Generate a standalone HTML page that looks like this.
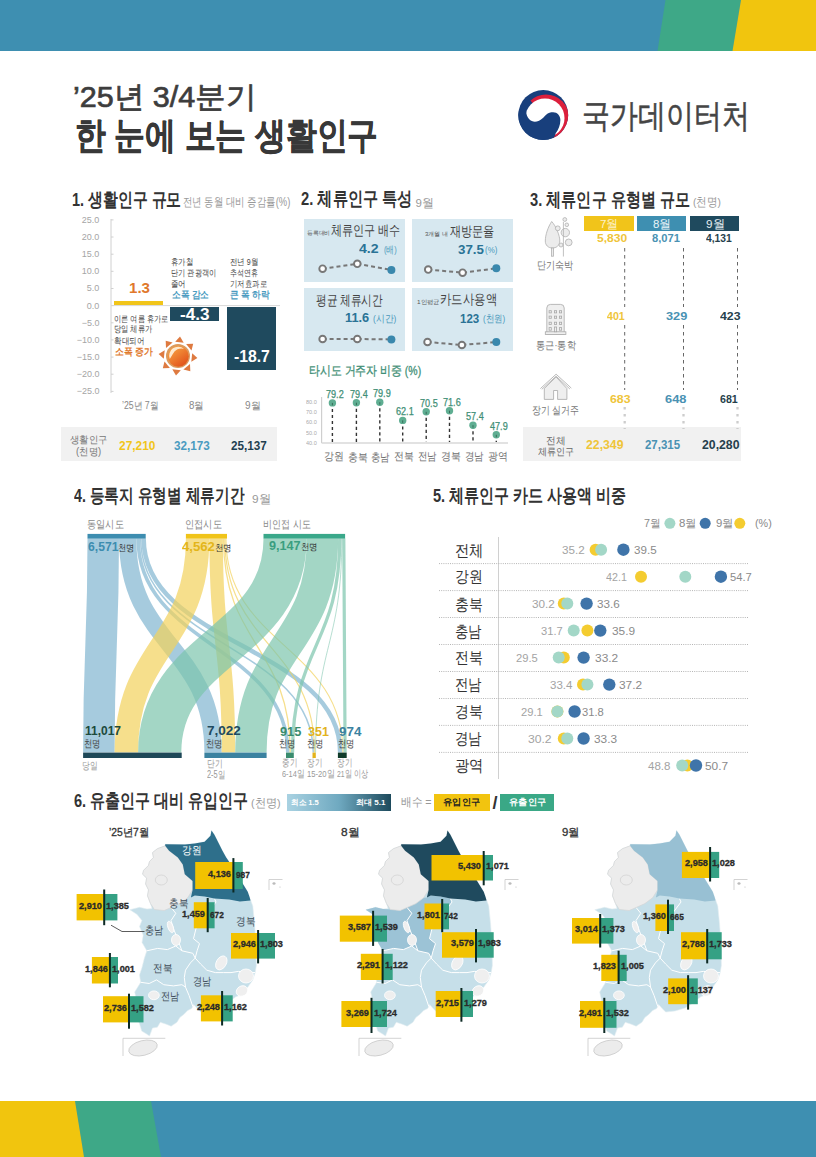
<!DOCTYPE html>
<html><head><meta charset="utf-8"><style>
html,body{margin:0;padding:0;background:#fff;}
body{width:816px;height:1157px;position:relative;overflow:hidden;font-family:"Liberation Sans", sans-serif;}
.t{position:absolute;white-space:nowrap;}
.b{position:absolute;}
.s{position:absolute;overflow:visible;}
</style></head><body>
<svg class="s" style="left:0;top:0" width="816" height="1157" viewBox="0 0 816 1157">
<rect x="0" y="0" width="816" height="51" fill="#3e8fb1"/>
<polygon points="665.5,0 741,0 732.5,51 657.5,51" fill="#3ea887"/>
<polygon points="741,0 816,0 816,51 732.5,51" fill="#f1c50e"/>
<rect x="0" y="1101" width="816" height="56" fill="#3e8fb1"/>
<polygon points="75,1101 151,1101 161,1157 84,1157" fill="#3ea887"/>
<polygon points="0,1101 75,1101 84,1157 0,1157" fill="#f1c50e"/>
</svg>
<div class="t" style="left:72.57px;top:81.70px;font-size:30px;line-height:30px;color:#3d3d3d;transform:scaleX(1.0172);transform-origin:0 0;-webkit-text-stroke:0.7px #3d3d3d;">&#8217;25년 3/4분기</div>
<div class="t" style="left:75.03px;top:116.50px;font-size:37px;line-height:37px;color:#383838;font-weight:bold;transform:scaleX(0.8333);transform-origin:0 0;-webkit-text-stroke:0.5px #383838;">한 눈에 보는 생활인구</div>
<svg class="s" style="left:516.5px;top:89.2px" width="52.5" height="52" viewBox="0 0 100 100">
<defs><clipPath id="lc"><circle cx="50" cy="50" r="48"/></clipPath><clipPath id="lw"><polygon points="50,50 -31,-41 50,-60 160,-60 160,160 89,144"/></clipPath></defs>
<circle cx="50" cy="50" r="48" fill="#183f7c"/>
<g clip-path="url(#lc)"><circle cx="55.3" cy="54.8" r="44.4" fill="#dc1f3c" clip-path="url(#lw)"/></g>
<circle cx="53.2" cy="55.8" r="37.7" fill="#fff" clip-path="url(#lc)"/>
<path clip-path="url(#lc)" d="M 17.2,43 C 17.5,56 26,63 34,63 C 44,63 50,55 55,50 C 60,45 64,44.5 69,44.5 C 77,44.5 83,51 83,59.5 C 83,70 79,78 74,85 L 69.5,97 L 50,100 L 0,100 L 0,43 Z" fill="#183f7c"/>
</svg>
<div class="t" style="left:581.81px;top:98.50px;font-size:33px;line-height:33px;color:#454545;transform:scaleX(0.8455);transform-origin:0 0;-webkit-text-stroke:0.5px #454545;">국가데이터처</div>
<div class="t" style="left:72.42px;top:190.80px;font-size:18.5px;line-height:18.5px;color:#333;font-weight:bold;transform:scaleX(0.7826);transform-origin:0 0;">1. 생활인구 규모</div>
<div class="t" style="left:183.21px;top:196.20px;font-size:12px;line-height:12px;color:#999;transform:scaleX(0.7852);transform-origin:0 0;">전년 동월 대비 증감률(%)</div>
<div class="t" style="left:81.70px;top:215.85px;font-size:9px;line-height:9px;color:#a5a5a5;">25.0</div>
<div class="t" style="left:81.70px;top:233.00px;font-size:9px;line-height:9px;color:#a5a5a5;">20.0</div>
<div class="t" style="left:81.70px;top:250.15px;font-size:9px;line-height:9px;color:#a5a5a5;">15.0</div>
<div class="t" style="left:81.70px;top:267.30px;font-size:9px;line-height:9px;color:#a5a5a5;">10.0</div>
<div class="t" style="left:86.70px;top:284.45px;font-size:9px;line-height:9px;color:#a5a5a5;">5.0</div>
<div class="t" style="left:86.70px;top:301.60px;font-size:9px;line-height:9px;color:#a5a5a5;">0.0</div>
<div class="t" style="left:81.70px;top:318.75px;font-size:9px;line-height:9px;color:#a5a5a5;">&minus;5.0</div>
<div class="t" style="left:76.70px;top:335.90px;font-size:9px;line-height:9px;color:#a5a5a5;">&minus;10.0</div>
<div class="t" style="left:76.70px;top:353.05px;font-size:9px;line-height:9px;color:#a5a5a5;">&minus;15.0</div>
<div class="t" style="left:76.70px;top:370.20px;font-size:9px;line-height:9px;color:#a5a5a5;">&minus;20.0</div>
<div class="t" style="left:76.70px;top:387.35px;font-size:9px;line-height:9px;color:#a5a5a5;">&minus;25.0</div>
<svg class="s" style="left:0;top:0" width="816" height="1157"><line x1="111" y1="219" x2="111" y2="393" stroke="#d0d0d0" stroke-width="1"/><line x1="111" y1="219.9" x2="113.5" y2="219.9" stroke="#d0d0d0" stroke-width="1"/><line x1="111" y1="237.0" x2="113.5" y2="237.0" stroke="#d0d0d0" stroke-width="1"/><line x1="111" y1="254.2" x2="113.5" y2="254.2" stroke="#d0d0d0" stroke-width="1"/><line x1="111" y1="271.3" x2="113.5" y2="271.3" stroke="#d0d0d0" stroke-width="1"/><line x1="111" y1="288.5" x2="113.5" y2="288.5" stroke="#d0d0d0" stroke-width="1"/><line x1="111" y1="305.6" x2="113.5" y2="305.6" stroke="#d0d0d0" stroke-width="1"/><line x1="111" y1="322.8" x2="113.5" y2="322.8" stroke="#d0d0d0" stroke-width="1"/><line x1="111" y1="339.9" x2="113.5" y2="339.9" stroke="#d0d0d0" stroke-width="1"/><line x1="111" y1="357.1" x2="113.5" y2="357.1" stroke="#d0d0d0" stroke-width="1"/><line x1="111" y1="374.2" x2="113.5" y2="374.2" stroke="#d0d0d0" stroke-width="1"/><line x1="111" y1="391.4" x2="113.5" y2="391.4" stroke="#d0d0d0" stroke-width="1"/><line x1="111" y1="305.6" x2="280" y2="305.6" stroke="#d8d8d8" stroke-width="1"/></svg>
<div class="b" style="left:113.8px;top:301.2px;width:49.7px;height:4.3px;background:#f1c51a;"></div>
<div class="b" style="left:170.4px;top:307.0px;width:48.6px;height:14.0px;background:#1f4a5e;"></div>
<div class="b" style="left:227.3px;top:307.0px;width:48.9px;height:62.8px;background:#1f4a5e;"></div>
<div class="t" style="left:129.40px;top:281.10px;font-size:14.5px;line-height:14.5px;color:#e0782c;font-weight:bold;transform:scaleX(1.0400);transform-origin:0 0;">1.3</div>
<div class="t" style="left:180.00px;top:307.00px;font-size:16px;line-height:16px;color:#fff;font-weight:bold;transform:scaleX(1.0714);transform-origin:0 0;">-4.3</div>
<div class="t" style="left:234.00px;top:349.40px;font-size:16px;line-height:16px;color:#fff;font-weight:bold;transform:scaleX(0.9833);transform-origin:0 0;">-18.7</div>
<div class="t" style="left:170.78px;top:258.10px;font-size:8.5px;line-height:8.5px;color:#444;transform:scaleX(0.8240);transform-origin:0 0;">휴가철</div>
<div class="t" style="left:170.80px;top:268.50px;font-size:8.5px;line-height:8.5px;color:#444;transform:scaleX(0.8037);transform-origin:0 0;">단기 관광객이</div>
<div class="t" style="left:170.78px;top:279.50px;font-size:8.5px;line-height:8.5px;color:#444;transform:scaleX(0.8250);transform-origin:0 0;">줄어</div>
<div class="t" style="left:171.60px;top:289.70px;font-size:9.5px;line-height:9.5px;color:#4a9bc0;font-weight:bold;transform:scaleX(0.8698);transform-origin:0 0;">소폭 감소</div>
<div class="t" style="left:229.57px;top:258.10px;font-size:8.5px;line-height:8.5px;color:#444;transform:scaleX(0.8281);transform-origin:0 0;">전년 9월</div>
<div class="t" style="left:229.62px;top:269.00px;font-size:8.5px;line-height:8.5px;color:#444;transform:scaleX(0.7771);transform-origin:0 0;">추석연휴</div>
<div class="t" style="left:229.58px;top:279.50px;font-size:8.5px;line-height:8.5px;color:#444;transform:scaleX(0.8209);transform-origin:0 0;">기저효과로</div>
<div class="t" style="left:230.40px;top:289.70px;font-size:9.5px;line-height:9.5px;color:#4a9bc0;font-weight:bold;transform:scaleX(0.8667);transform-origin:0 0;">큰 폭 하락</div>
<div class="t" style="left:113.80px;top:314.50px;font-size:8.5px;line-height:8.5px;color:#444;transform:scaleX(0.8015);transform-origin:0 0;">이른 여름 휴가로</div>
<div class="t" style="left:113.79px;top:325.00px;font-size:8.5px;line-height:8.5px;color:#444;transform:scaleX(0.8087);transform-origin:0 0;">당일 체류가</div>
<div class="t" style="left:113.76px;top:336.70px;font-size:8.5px;line-height:8.5px;color:#444;transform:scaleX(0.8353);transform-origin:0 0;">확대되어</div>
<div class="t" style="left:114.60px;top:346.50px;font-size:9.5px;line-height:9.5px;color:#e0782c;font-weight:bold;transform:scaleX(0.8884);transform-origin:0 0;">소폭 증가</div>
<svg class="s" style="left:153.2px;top:330.5px" width="50" height="50" viewBox="-25 -25 50 50"><defs><linearGradient id="sg" x1="0.2" y1="0.1" x2="0.8" y2="0.9"><stop offset="0" stop-color="#f7a040"/><stop offset="1" stop-color="#e2541c"/></linearGradient></defs><polygon points="19.4,2.0 14.2,-2.8 13.3,5.7" fill="#de7a40"/><polygon points="12.3,15.2 12.0,8.1 5.4,13.5" fill="#de7a40"/><polygon points="-2.0,19.4 2.8,14.2 -5.7,13.3" fill="#de7a40"/><polygon points="-15.2,12.3 -8.1,12.0 -13.5,5.4" fill="#de7a40"/><polygon points="-19.4,-2.0 -14.2,2.8 -13.3,-5.7" fill="#de7a40"/><polygon points="-12.3,-15.2 -12.0,-8.1 -5.4,-13.5" fill="#de7a40"/><polygon points="2.0,-19.4 -2.8,-14.2 5.7,-13.3" fill="#de7a40"/><polygon points="15.2,-12.3 8.1,-12.0 13.5,-5.4" fill="#de7a40"/><circle cx="0" cy="0" r="12" fill="#dc9a5c"/><circle cx="0.3" cy="0.3" r="10.4" fill="url(#sg)"/><path d="M -8.2,3 A 9 9 0 0 1 6,-7.2 A 9.5 9.5 0 0 0 -5.2,-2 Z" fill="#fff3e0" opacity="0.9"/></svg>
<div class="t" style="left:122.00px;top:401.00px;font-size:10px;line-height:10px;color:#888;transform:scaleX(0.8732);transform-origin:0 0;">&#8217;25년 7월</div>
<div class="t" style="left:188.50px;top:401.00px;font-size:10px;line-height:10px;color:#888;transform:scaleX(0.9667);transform-origin:0 0;">8월</div>
<div class="t" style="left:245.00px;top:401.00px;font-size:10px;line-height:10px;color:#888;">9월</div>
<div class="b" style="left:60.7px;top:427.0px;width:216.0px;height:34.0px;background:#f1f1f1;"></div>
<div class="t" style="left:70.00px;top:434.50px;font-size:10px;line-height:10px;color:#777;transform:scaleX(0.9410);transform-origin:0 0;">생활인구</div>
<div class="t" style="left:76.00px;top:447.00px;font-size:10px;line-height:10px;color:#777;transform:scaleX(0.9423);transform-origin:0 0;">(천명)</div>
<div class="t" style="left:119.00px;top:438.70px;font-size:13px;line-height:13px;color:#f1c51a;font-weight:bold;transform:scaleX(0.9175);transform-origin:0 0;">27,210</div>
<div class="t" style="left:174.00px;top:438.70px;font-size:13px;line-height:13px;color:#4a9bc0;font-weight:bold;transform:scaleX(0.9000);transform-origin:0 0;">32,173</div>
<div class="t" style="left:231.00px;top:438.70px;font-size:13px;line-height:13px;color:#1f3f50;font-weight:bold;transform:scaleX(0.9000);transform-origin:0 0;">25,137</div>
<div class="t" style="left:300.90px;top:190.30px;font-size:18.5px;line-height:18.5px;color:#333;font-weight:bold;transform:scaleX(0.7993);transform-origin:0 0;">2. 체류인구 특성</div>
<div class="t" style="left:415.60px;top:197.50px;font-size:11.5px;line-height:11.5px;color:#999;">9월</div>
<div class="b" style="left:304.0px;top:219.0px;width:101.0px;height:62.7px;background:#d7e8f0;"></div>
<div class="b" style="left:412.0px;top:219.0px;width:101.0px;height:62.7px;background:#d7e8f0;"></div>
<div class="b" style="left:304.0px;top:288.1px;width:101.0px;height:63.0px;background:#d7e8f0;"></div>
<div class="b" style="left:412.0px;top:288.1px;width:101.0px;height:63.0px;background:#d7e8f0;"></div>
<div class="t" style="left:306.70px;top:229.50px;font-size:6px;line-height:6px;color:#555;transform:scaleX(0.9708);transform-origin:0 0;">등록대비</div>
<div class="t" style="left:331.30px;top:224.20px;font-size:13.5px;line-height:13.5px;color:#444;transform:scaleX(0.7931);transform-origin:0 0;">체류인구 배수</div>
<div class="t" style="left:359.30px;top:242.20px;font-size:13px;line-height:13px;color:#2a7396;font-weight:bold;transform:scaleX(1.0889);transform-origin:0 0;">4.2</div>
<div class="t" style="left:383.60px;top:244.50px;font-size:9.5px;line-height:9.5px;color:#4a98bb;transform:scaleX(0.7750);transform-origin:0 0;">(배)</div>
<div class="t" style="left:425.30px;top:230.50px;font-size:6px;line-height:6px;color:#555;transform:scaleX(1.0043);transform-origin:0 0;">3개월 내</div>
<div class="t" style="left:449.80px;top:224.80px;font-size:13.5px;line-height:13.5px;color:#444;transform:scaleX(0.7964);transform-origin:0 0;">재방문율</div>
<div class="t" style="left:457.90px;top:243.00px;font-size:13px;line-height:13px;color:#2a7396;font-weight:bold;transform:scaleX(1.0240);transform-origin:0 0;">37.5</div>
<div class="t" style="left:485.10px;top:244.80px;font-size:9.5px;line-height:9.5px;color:#4a98bb;transform:scaleX(0.8333);transform-origin:0 0;">(%)</div>
<div class="t" style="left:315.50px;top:294.20px;font-size:13.5px;line-height:13.5px;color:#444;transform:scaleX(0.7614);transform-origin:0 0;">평균 체류시간</div>
<div class="t" style="left:344.50px;top:311.30px;font-size:13px;line-height:13px;color:#2a7396;font-weight:bold;transform:scaleX(0.9833);transform-origin:0 0;">11.6</div>
<div class="t" style="left:372.80px;top:313.70px;font-size:9.5px;line-height:9.5px;color:#4a98bb;transform:scaleX(0.8808);transform-origin:0 0;">(시간)</div>
<div class="t" style="left:417.20px;top:299.00px;font-size:6px;line-height:6px;color:#555;transform:scaleX(1.0714);transform-origin:0 0;">1인평균</div>
<div class="t" style="left:439.59px;top:293.40px;font-size:13.5px;line-height:13.5px;color:#444;transform:scaleX(0.8149);transform-origin:0 0;">카드사용액</div>
<div class="t" style="left:459.90px;top:311.50px;font-size:13px;line-height:13px;color:#2a7396;font-weight:bold;transform:scaleX(0.8864);transform-origin:0 0;">123</div>
<div class="t" style="left:482.80px;top:313.70px;font-size:9.5px;line-height:9.5px;color:#4a98bb;transform:scaleX(0.8462);transform-origin:0 0;">(천원)</div>
<div class="t" style="left:325.80px;top:389.92px;font-size:10px;line-height:10px;color:#3f8f76;transform:scaleX(0.9100);transform-origin:0 0;-webkit-text-stroke:0.25px #3f8f76;">79.2</div>
<div class="t" style="left:324.00px;top:451.00px;font-size:11px;line-height:11px;color:#707070;transform:scaleX(0.9000);transform-origin:0 0;">강원</div>
<div class="t" style="left:349.80px;top:389.71px;font-size:10px;line-height:10px;color:#3f8f76;transform:scaleX(0.9100);transform-origin:0 0;-webkit-text-stroke:0.25px #3f8f76;">79.4</div>
<div class="t" style="left:348.00px;top:451.50px;font-size:11px;line-height:11px;color:#707070;transform:scaleX(0.9000);transform-origin:0 0;">충북</div>
<div class="t" style="left:373.20px;top:389.20px;font-size:10px;line-height:10px;color:#3f8f76;transform:scaleX(0.9100);transform-origin:0 0;-webkit-text-stroke:0.25px #3f8f76;">79.9</div>
<div class="t" style="left:371.44px;top:451.50px;font-size:11px;line-height:11px;color:#707070;transform:scaleX(0.8571);transform-origin:0 0;">충남</div>
<div class="t" style="left:396.10px;top:407.36px;font-size:10px;line-height:10px;color:#3f8f76;transform:scaleX(0.9100);transform-origin:0 0;-webkit-text-stroke:0.25px #3f8f76;">62.1</div>
<div class="t" style="left:394.30px;top:451.00px;font-size:11px;line-height:11px;color:#707070;transform:scaleX(0.9000);transform-origin:0 0;">전북</div>
<div class="t" style="left:419.60px;top:398.79px;font-size:10px;line-height:10px;color:#3f8f76;transform:scaleX(0.9100);transform-origin:0 0;-webkit-text-stroke:0.25px #3f8f76;">70.5</div>
<div class="t" style="left:417.84px;top:451.00px;font-size:11px;line-height:11px;color:#707070;transform:scaleX(0.8571);transform-origin:0 0;">전남</div>
<div class="t" style="left:442.90px;top:397.67px;font-size:10px;line-height:10px;color:#3f8f76;transform:scaleX(0.9100);transform-origin:0 0;-webkit-text-stroke:0.25px #3f8f76;">71.6</div>
<div class="t" style="left:441.10px;top:451.00px;font-size:11px;line-height:11px;color:#707070;transform:scaleX(0.9000);transform-origin:0 0;">경북</div>
<div class="t" style="left:466.40px;top:412.15px;font-size:10px;line-height:10px;color:#3f8f76;transform:scaleX(0.9100);transform-origin:0 0;-webkit-text-stroke:0.25px #3f8f76;">57.4</div>
<div class="t" style="left:464.64px;top:451.00px;font-size:11px;line-height:11px;color:#707070;transform:scaleX(0.8571);transform-origin:0 0;">경남</div>
<div class="t" style="left:489.70px;top:421.84px;font-size:10px;line-height:10px;color:#3f8f76;transform:scaleX(0.9100);transform-origin:0 0;-webkit-text-stroke:0.25px #3f8f76;">47.9</div>
<div class="t" style="left:487.90px;top:451.00px;font-size:11px;line-height:11px;color:#707070;transform:scaleX(0.9000);transform-origin:0 0;">광역</div>
<svg class="s" style="left:0;top:0" width="816" height="1157"><polyline points="322.6,268.7 357.3,263.8 391.4,270" fill="none" stroke="#777" stroke-width="2" stroke-dasharray="4 3"/><circle cx="322.6" cy="268.7" r="3.3" fill="#fff" stroke="#777" stroke-width="1.9"/><circle cx="357.3" cy="263.8" r="3.3" fill="#fff" stroke="#777" stroke-width="1.9"/><circle cx="391.4" cy="270" r="4" fill="#3a88ad"/><polyline points="428.2,269.6 462.6,272.7 496.3,268.3" fill="none" stroke="#777" stroke-width="2" stroke-dasharray="4 3"/><circle cx="428.2" cy="269.6" r="3.3" fill="#fff" stroke="#777" stroke-width="1.9"/><circle cx="462.6" cy="272.7" r="3.3" fill="#fff" stroke="#777" stroke-width="1.9"/><circle cx="496.3" cy="268.3" r="4" fill="#3a88ad"/><polyline points="322.6,339 357.3,339 391.4,339.4" fill="none" stroke="#777" stroke-width="2" stroke-dasharray="4 3"/><circle cx="322.6" cy="339" r="3.3" fill="#fff" stroke="#777" stroke-width="1.9"/><circle cx="357.3" cy="339" r="3.3" fill="#fff" stroke="#777" stroke-width="1.9"/><circle cx="391.4" cy="339.4" r="4" fill="#3a88ad"/><polyline points="427.5,342 461.9,345 496.3,342" fill="none" stroke="#777" stroke-width="2" stroke-dasharray="4 3"/><circle cx="427.5" cy="342" r="3.3" fill="#fff" stroke="#777" stroke-width="1.9"/><circle cx="461.9" cy="345" r="3.3" fill="#fff" stroke="#777" stroke-width="1.9"/><circle cx="496.3" cy="342" r="4" fill="#3a88ad"/><line x1="321.6" y1="397" x2="321.6" y2="443" stroke="#cfcfcf" stroke-width="1.2"/><line x1="321.6" y1="443" x2="508" y2="443" stroke="#d9d9d9" stroke-width="1.5"/><line x1="332.4" y1="402.9" x2="332.4" y2="442" stroke="#333" stroke-width="1.4" stroke-dasharray="3.2 2.8"/><circle cx="332.4" cy="402.9" r="3.7" fill="#5fae92"/><line x1="332.4" y1="402.9" x2="332.4" y2="405.4" stroke="#2d5a4a" stroke-width="0.8"/><line x1="356.4" y1="402.7" x2="356.4" y2="442" stroke="#333" stroke-width="1.4" stroke-dasharray="3.2 2.8"/><circle cx="356.4" cy="402.7" r="3.7" fill="#5fae92"/><line x1="356.4" y1="402.7" x2="356.4" y2="405.2" stroke="#2d5a4a" stroke-width="0.8"/><line x1="379.8" y1="402.2" x2="379.8" y2="442" stroke="#333" stroke-width="1.4" stroke-dasharray="3.2 2.8"/><circle cx="379.8" cy="402.2" r="3.7" fill="#5fae92"/><line x1="379.8" y1="402.2" x2="379.8" y2="404.7" stroke="#2d5a4a" stroke-width="0.8"/><line x1="402.7" y1="420.4" x2="402.7" y2="442" stroke="#333" stroke-width="1.4" stroke-dasharray="3.2 2.8"/><circle cx="402.7" cy="420.4" r="3.7" fill="#5fae92"/><line x1="402.7" y1="420.4" x2="402.7" y2="422.9" stroke="#2d5a4a" stroke-width="0.8"/><line x1="426.2" y1="411.8" x2="426.2" y2="442" stroke="#333" stroke-width="1.4" stroke-dasharray="3.2 2.8"/><circle cx="426.2" cy="411.8" r="3.7" fill="#5fae92"/><line x1="426.2" y1="411.8" x2="426.2" y2="414.3" stroke="#2d5a4a" stroke-width="0.8"/><line x1="449.5" y1="410.7" x2="449.5" y2="442" stroke="#333" stroke-width="1.4" stroke-dasharray="3.2 2.8"/><circle cx="449.5" cy="410.7" r="3.7" fill="#5fae92"/><line x1="449.5" y1="410.7" x2="449.5" y2="413.2" stroke="#2d5a4a" stroke-width="0.8"/><line x1="473" y1="425.2" x2="473" y2="442" stroke="#333" stroke-width="1.4" stroke-dasharray="3.2 2.8"/><circle cx="473" cy="425.2" r="3.7" fill="#5fae92"/><line x1="473" y1="425.2" x2="473" y2="427.7" stroke="#2d5a4a" stroke-width="0.8"/><line x1="496.3" y1="434.8" x2="496.3" y2="442" stroke="#333" stroke-width="1.4" stroke-dasharray="3.2 2.8"/><circle cx="496.3" cy="434.8" r="3.7" fill="#5fae92"/><line x1="496.3" y1="434.8" x2="496.3" y2="437.3" stroke="#2d5a4a" stroke-width="0.8"/></svg>
<div class="t" style="left:306.30px;top:399.00px;font-size:6px;line-height:6px;color:#aaa;transform:scaleX(0.9167);transform-origin:0 0;">80.0</div>
<div class="t" style="left:306.30px;top:409.20px;font-size:6px;line-height:6px;color:#aaa;transform:scaleX(0.9167);transform-origin:0 0;">70.0</div>
<div class="t" style="left:306.30px;top:419.40px;font-size:6px;line-height:6px;color:#aaa;transform:scaleX(0.9167);transform-origin:0 0;">60.0</div>
<div class="t" style="left:306.30px;top:429.60px;font-size:6px;line-height:6px;color:#aaa;transform:scaleX(0.9167);transform-origin:0 0;">50.0</div>
<div class="t" style="left:306.30px;top:439.80px;font-size:6px;line-height:6px;color:#aaa;transform:scaleX(0.9167);transform-origin:0 0;">40.0</div>
<div class="t" style="left:309.26px;top:364.50px;font-size:12.5px;line-height:12.5px;color:#3f8f76;transform:scaleX(0.8376);transform-origin:0 0;-webkit-text-stroke:0.3px #3f8f76;">타시도 거주자 비중 (%)</div>
<div class="t" style="left:530.30px;top:190.80px;font-size:18.5px;line-height:18.5px;color:#333;font-weight:bold;transform:scaleX(0.7930);transform-origin:0 0;">3. 체류인구 유형별 규모</div>
<div class="t" style="left:693.20px;top:197.00px;font-size:11.5px;line-height:11.5px;color:#999;transform:scaleX(0.8839);transform-origin:0 0;">(천명)</div>
<div class="b" style="left:584.0px;top:216.2px;width:50.1px;height:14.7px;background:#f1c41a;"></div>
<div class="b" style="left:637.1px;top:216.2px;width:48.8px;height:14.7px;background:#3e8fb1;"></div>
<div class="b" style="left:690.0px;top:216.2px;width:48.8px;height:14.7px;background:#1f4a5e;"></div>
<div class="t" style="left:600.00px;top:218.50px;font-size:11.5px;line-height:11.5px;color:#fdf2c8;">7월</div>
<div class="t" style="left:652.80px;top:218.50px;font-size:11.5px;line-height:11.5px;color:#eaf4f8;transform:scaleX(0.9941);transform-origin:0 0;">8월</div>
<div class="t" style="left:705.70px;top:218.50px;font-size:11.5px;line-height:11.5px;color:#e6eef2;transform:scaleX(1.0176);transform-origin:0 0;">9월</div>
<div class="b" style="left:523.0px;top:427.4px;width:218.0px;height:33.8px;background:#f1f1f1;"></div>
<svg class="s" style="left:0;top:0" width="816" height="1157"><line x1="624.7" y1="248" x2="624.7" y2="307" stroke="#666" stroke-width="1" stroke-dasharray="3.5 3.5"/><line x1="624.7" y1="325" x2="624.7" y2="390" stroke="#666" stroke-width="1" stroke-dasharray="3.5 3.5"/><line x1="624.7" y1="407" x2="624.7" y2="429" stroke="#cdcdcd" stroke-width="2.3" stroke-dasharray="2.5 4.5"/><line x1="683.5" y1="248" x2="683.5" y2="307" stroke="#666" stroke-width="1" stroke-dasharray="3.5 3.5"/><line x1="683.5" y1="325" x2="683.5" y2="390" stroke="#666" stroke-width="1" stroke-dasharray="3.5 3.5"/><line x1="683.5" y1="407" x2="683.5" y2="429" stroke="#cdcdcd" stroke-width="2.3" stroke-dasharray="2.5 4.5"/><line x1="737.5" y1="248" x2="737.5" y2="307" stroke="#666" stroke-width="1" stroke-dasharray="3.5 3.5"/><line x1="737.5" y1="325" x2="737.5" y2="390" stroke="#666" stroke-width="1" stroke-dasharray="3.5 3.5"/><line x1="737.5" y1="407" x2="737.5" y2="429" stroke="#cdcdcd" stroke-width="2.3" stroke-dasharray="2.5 4.5"/><g fill="#ececec" stroke="#b0b0b0" stroke-width="0.8"><path d="M 551.7,221.5 C 556,226 560,236 559.8,241 C 559.5,246 556,248 552.5,248 C 548,248 545.3,245 545.3,241 C 545.3,235 548,227 551.7,221.5 Z"/><rect x="551.6" y="248" width="2" height="8.2"/><circle cx="564.8" cy="219.5" r="1.9"/><circle cx="566.8" cy="224.8" r="1.8"/><circle cx="557.8" cy="228.3" r="2.4"/><circle cx="565.3" cy="232.6" r="4.2"/><circle cx="568.7" cy="242.4" r="3.4"/><circle cx="561" cy="245" r="2"/><path d="M 563.4,222 L 563.4,256.5" fill="none"/></g><g fill="#efefef" stroke="#a8a8a8" stroke-width="0.8"><path d="M 546.8,334 L 546.8,308 Q 546.8,304.4 550.5,304.4 L 560.5,304.4 Q 564.2,304.4 564.2,308 L 564.2,334 Z"/><rect x="545.3" y="331.8" width="20.6" height="2.6"/><rect x="549.1" y="310.7" width="2.2" height="2.2"/><rect x="549.1" y="316.09999999999997" width="2.2" height="2.2"/><rect x="549.1" y="322.2" width="2.2" height="2.2"/><rect x="549.1" y="327.59999999999997" width="2.2" height="2.6"/><rect x="554.4" y="310.7" width="2.2" height="2.2"/><rect x="554.4" y="316.09999999999997" width="2.2" height="2.2"/><rect x="554.4" y="322.2" width="2.2" height="2.2"/><rect x="554.4" y="327" width="2.2" height="4.8"/><rect x="559.4" y="310.7" width="2.2" height="2.2"/><rect x="559.4" y="316.09999999999997" width="2.2" height="2.2"/><rect x="559.4" y="322.2" width="2.2" height="2.2"/><rect x="559.4" y="327.59999999999997" width="2.2" height="2.6"/></g><g fill="#efefef" stroke="#a8a8a8" stroke-width="0.8"><path d="M 544.3,388.5 L 556.1,377 L 566.9,388.5 L 566.9,399.4 L 557.6,399.4 L 557.6,390.5 L 553.6,390.5 L 553.6,399.4 L 544.3,399.4 Z"/><path d="M 540.4,388.6 L 556.1,374.2 L 571.3,388.1" fill="none"/><path d="M 541.8,389.3 L 556.1,376.2 L 569.9,389" fill="none"/></g></svg>
<div class="t" style="left:537.27px;top:260.10px;font-size:10.5px;line-height:10.5px;color:#777;transform:scaleX(0.8302);transform-origin:0 0;">단기숙박</div>
<div class="t" style="left:535.66px;top:340.30px;font-size:10.5px;line-height:10.5px;color:#777;transform:scaleX(0.8370);transform-origin:0 0;">통근·통학</div>
<div class="t" style="left:531.59px;top:404.50px;font-size:10.5px;line-height:10.5px;color:#777;transform:scaleX(0.8123);transform-origin:0 0;">장기 실거주</div>
<div class="t" style="left:546.03px;top:435.60px;font-size:10px;line-height:10px;color:#666;transform:scaleX(0.9667);transform-origin:0 0;">전체</div>
<div class="t" style="left:538.20px;top:447.40px;font-size:10px;line-height:10px;color:#666;transform:scaleX(0.9051);transform-origin:0 0;">체류인구</div>
<div class="t" style="left:597.40px;top:232.80px;font-size:10.5px;line-height:10.5px;color:#efc53a;font-weight:bold;transform:scaleX(1.1500);transform-origin:0 0;">5,830</div>
<div class="t" style="left:652.00px;top:232.80px;font-size:10.5px;line-height:10.5px;color:#4a92b3;font-weight:bold;transform:scaleX(1.0630);transform-origin:0 0;">8,071</div>
<div class="t" style="left:705.70px;top:232.80px;font-size:10.5px;line-height:10.5px;color:#263f4c;font-weight:bold;transform:scaleX(0.9815);transform-origin:0 0;">4,131</div>
<div class="t" style="left:606.60px;top:310.50px;font-size:11px;line-height:11px;color:#efc53a;font-weight:bold;transform:scaleX(0.9684);transform-origin:0 0;">401</div>
<div class="t" style="left:665.90px;top:310.50px;font-size:11px;line-height:11px;color:#4a92b3;font-weight:bold;transform:scaleX(1.1611);transform-origin:0 0;">329</div>
<div class="t" style="left:720.00px;top:310.50px;font-size:11px;line-height:11px;color:#263f4c;font-weight:bold;transform:scaleX(1.1167);transform-origin:0 0;">423</div>
<div class="t" style="left:609.60px;top:393.90px;font-size:11px;line-height:11px;color:#efc53a;font-weight:bold;transform:scaleX(1.1167);transform-origin:0 0;">683</div>
<div class="t" style="left:665.20px;top:393.90px;font-size:11px;line-height:11px;color:#4a92b3;font-weight:bold;transform:scaleX(1.1667);transform-origin:0 0;">648</div>
<div class="t" style="left:719.60px;top:393.90px;font-size:11px;line-height:11px;color:#263f4c;font-weight:bold;transform:scaleX(0.9684);transform-origin:0 0;">681</div>
<div class="t" style="left:586.00px;top:439.20px;font-size:12px;line-height:12px;color:#efc53a;font-weight:bold;transform:scaleX(1.0216);transform-origin:0 0;">22,349</div>
<div class="t" style="left:645.30px;top:439.20px;font-size:12px;line-height:12px;color:#4a92b3;font-weight:bold;transform:scaleX(0.9541);transform-origin:0 0;">27,315</div>
<div class="t" style="left:701.90px;top:439.20px;font-size:12px;line-height:12px;color:#263f4c;font-weight:bold;transform:scaleX(1.0216);transform-origin:0 0;">20,280</div>
<div class="t" style="left:73.70px;top:486.50px;font-size:18.5px;line-height:18.5px;color:#333;font-weight:bold;transform:scaleX(0.7706);transform-origin:0 0;">4. 등록지 유형별 체류기간</div>
<div class="t" style="left:252.00px;top:493.50px;font-size:11.5px;line-height:11.5px;color:#999;transform:scaleX(1.0294);transform-origin:0 0;">9월</div>
<svg class="s" style="left:0;top:0" width="816" height="1157"><path d="M 103.25,538.6 C 103.25,645.6 98.85,645.6 98.85,752.6" fill="none" stroke="#80b5d0" stroke-width="31.5" stroke-opacity="0.7"/><path d="M 127.65,538.6 C 127.65,645.6 213.05,645.6 213.05,752.6" fill="none" stroke="#80b5d0" stroke-width="17.3" stroke-opacity="0.7"/><path d="M 138.10,538.6 C 138.10,645.6 287.80,645.6 287.80,752.6" fill="none" stroke="#80b5d0" stroke-width="3.6" stroke-opacity="0.7"/><path d="M 140.65,538.6 C 140.65,645.6 313.25,645.6 313.25,752.6" fill="none" stroke="#80b5d0" stroke-width="1.5" stroke-opacity="0.7"/><path d="M 143.65,538.6 C 143.65,645.6 340.15,645.6 340.15,752.6" fill="none" stroke="#80b5d0" stroke-width="4.5" stroke-opacity="0.7"/><path d="M 197.65,538.6 C 197.65,645.6 126.35,645.6 126.35,752.6" fill="none" stroke="#f2d15b" stroke-width="23.5" stroke-opacity="0.7"/><path d="M 216.15,538.6 C 216.15,645.6 228.45,645.6 228.45,752.6" fill="none" stroke="#f2d15b" stroke-width="13.5" stroke-opacity="0.7"/><path d="M 223.55,538.6 C 223.55,645.6 290.25,645.6 290.25,752.6" fill="none" stroke="#f2d15b" stroke-width="1.3" stroke-opacity="0.7"/><path d="M 224.80,538.6 C 224.80,645.6 314.60,645.6 314.60,752.6" fill="none" stroke="#f2d15b" stroke-width="1.2" stroke-opacity="0.7"/><path d="M 225.95,538.6 C 225.95,645.6 342.95,645.6 342.95,752.6" fill="none" stroke="#f2d15b" stroke-width="1.1" stroke-opacity="0.7"/><path d="M 285.10,538.6 C 285.10,645.6 159.70,645.6 159.70,752.6" fill="none" stroke="#7cc4ac" stroke-width="43.2" stroke-opacity="0.7"/><path d="M 322.40,538.6 C 322.40,645.6 250.90,645.6 250.90,752.6" fill="none" stroke="#7cc4ac" stroke-width="31.4" stroke-opacity="0.7"/><path d="M 339.75,538.6 C 339.75,645.6 292.55,645.6 292.55,752.6" fill="none" stroke="#7cc4ac" stroke-width="3.3" stroke-opacity="0.7"/><path d="M 341.80,538.6 C 341.80,645.6 315.60,645.6 315.60,752.6" fill="none" stroke="#7cc4ac" stroke-width="0.8" stroke-opacity="0.7"/><path d="M 343.80,538.6 C 343.80,645.6 345.10,645.6 345.10,752.6" fill="none" stroke="#7cc4ac" stroke-width="3.2" stroke-opacity="0.7"/><rect x="87.5" y="533.9" width="58.2" height="4.7" fill="#3d8db0"/><rect x="185.9" y="533.9" width="41.1" height="4.7" fill="#f0c419"/><rect x="263.5" y="533.9" width="81.6" height="4.7" fill="#3aa88a"/><rect x="83.1" y="752.6" width="98.6" height="5.4" fill="#1e4858"/><rect x="204.4" y="752.6" width="62.2" height="5.4" fill="#3b82a0"/><rect x="286" y="752.6" width="7.8" height="5.4" fill="#3a8c6e"/><rect x="312.5" y="752.6" width="3.3" height="5.4" fill="#e3b31c"/><rect x="337.9" y="752.6" width="8.8" height="5.4" fill="#0f3b2a"/></svg>
<div class="t" style="left:86.66px;top:518.70px;font-size:11px;line-height:11px;color:#888;transform:scaleX(0.8381);transform-origin:0 0;">동일시도</div>
<div class="t" style="left:184.66px;top:518.70px;font-size:11px;line-height:11px;color:#888;transform:scaleX(0.8405);transform-origin:0 0;">인접시도</div>
<div class="t" style="left:262.68px;top:519.00px;font-size:11px;line-height:11px;color:#888;transform:scaleX(0.8196);transform-origin:0 0;">비인접 시도</div>
<div class="t" style="left:87.80px;top:540.90px;font-size:12px;line-height:12px;color:#3d8db0;font-weight:bold;transform:scaleX(1.0133);transform-origin:0 0;">6,571</div>
<div class="t" style="left:118.28px;top:543.50px;font-size:8.5px;line-height:8.5px;color:#333;transform:scaleX(0.9187);transform-origin:0 0;">천명</div>
<div class="t" style="left:182.40px;top:540.90px;font-size:12px;line-height:12px;color:#e3b51a;font-weight:bold;transform:scaleX(1.0967);transform-origin:0 0;">4,562</div>
<div class="t" style="left:215.36px;top:543.50px;font-size:8.5px;line-height:8.5px;color:#333;transform:scaleX(0.9437);transform-origin:0 0;">천명</div>
<div class="t" style="left:269.40px;top:540.30px;font-size:12px;line-height:12px;color:#3a9e80;font-weight:bold;transform:scaleX(1.0533);transform-origin:0 0;">9,147</div>
<div class="t" style="left:300.86px;top:543.30px;font-size:8.5px;line-height:8.5px;color:#333;transform:scaleX(0.9375);transform-origin:0 0;">천명</div>
<div class="t" style="left:85.10px;top:724.70px;font-size:12.5px;line-height:12.5px;color:#1d4a3c;font-weight:bold;transform:scaleX(0.9595);transform-origin:0 0;">11,017</div>
<div class="t" style="left:206.60px;top:724.70px;font-size:12.5px;line-height:12.5px;color:#1f4a5e;font-weight:bold;transform:scaleX(1.0839);transform-origin:0 0;">7,022</div>
<div class="t" style="left:280.00px;top:725.70px;font-size:12.5px;line-height:12.5px;color:#3a8c6e;font-weight:bold;transform:scaleX(1.0238);transform-origin:0 0;">915</div>
<div class="t" style="left:308.00px;top:725.70px;font-size:12.5px;line-height:12.5px;color:#e3b31c;font-weight:bold;">351</div>
<div class="t" style="left:338.50px;top:725.70px;font-size:12.5px;line-height:12.5px;color:#3b82a0;font-weight:bold;transform:scaleX(1.0714);transform-origin:0 0;">974</div>
<div class="t" style="left:84.27px;top:739.00px;font-size:9.5px;line-height:9.5px;color:#444;transform:scaleX(0.8333);transform-origin:0 0;">천명</div>
<div class="t" style="left:205.77px;top:739.00px;font-size:9.5px;line-height:9.5px;color:#444;transform:scaleX(0.8333);transform-origin:0 0;">천명</div>
<div class="t" style="left:279.17px;top:739.00px;font-size:9.5px;line-height:9.5px;color:#444;transform:scaleX(0.8333);transform-origin:0 0;">천명</div>
<div class="t" style="left:307.17px;top:739.00px;font-size:9.5px;line-height:9.5px;color:#444;transform:scaleX(0.8333);transform-origin:0 0;">천명</div>
<div class="t" style="left:337.67px;top:739.00px;font-size:9.5px;line-height:9.5px;color:#444;transform:scaleX(0.8333);transform-origin:0 0;">천명</div>
<div class="t" style="left:82.32px;top:760.50px;font-size:10px;line-height:10px;color:#999;transform:scaleX(0.7778);transform-origin:0 0;">당일</div>
<div class="t" style="left:206.62px;top:758.70px;font-size:10px;line-height:10px;color:#999;transform:scaleX(0.7778);transform-origin:0 0;">단기</div>
<div class="t" style="left:207.00px;top:769.70px;font-size:10px;line-height:10px;color:#999;transform:scaleX(0.7391);transform-origin:0 0;">2-5일</div>
<div class="t" style="left:281.95px;top:758.20px;font-size:9.5px;line-height:9.5px;color:#999;transform:scaleX(0.7500);transform-origin:0 0;">중기</div>
<div class="t" style="left:307.25px;top:758.20px;font-size:9.5px;line-height:9.5px;color:#999;transform:scaleX(0.7500);transform-origin:0 0;">장기</div>
<div class="t" style="left:337.15px;top:758.20px;font-size:9.5px;line-height:9.5px;color:#999;transform:scaleX(0.7500);transform-origin:0 0;">장기</div>
<div class="t" style="left:282.00px;top:769.20px;font-size:9.5px;line-height:9.5px;color:#999;transform:scaleX(0.7750);transform-origin:0 0;">6-14일</div>
<div class="t" style="left:307.00px;top:769.20px;font-size:9.5px;line-height:9.5px;color:#999;transform:scaleX(0.8030);transform-origin:0 0;">15-20일</div>
<div class="t" style="left:337.00px;top:769.20px;font-size:9.5px;line-height:9.5px;color:#999;transform:scaleX(0.7140);transform-origin:0 0;">21일 이상</div>
<div class="t" style="left:433.00px;top:487.00px;font-size:18.5px;line-height:18.5px;color:#333;font-weight:bold;transform:scaleX(0.7889);transform-origin:0 0;">5. 체류인구 카드 사용액 비중</div>
<div class="t" style="left:644.20px;top:517.80px;font-size:11px;line-height:11px;color:#888;transform:scaleX(0.9750);transform-origin:0 0;">7월</div>
<div class="t" style="left:679.10px;top:517.80px;font-size:11px;line-height:11px;color:#888;transform:scaleX(1.0375);transform-origin:0 0;">8월</div>
<div class="t" style="left:715.90px;top:517.80px;font-size:11px;line-height:11px;color:#888;transform:scaleX(1.0312);transform-origin:0 0;">9월</div>
<div class="t" style="left:755.40px;top:518.20px;font-size:11px;line-height:11px;color:#888;transform:scaleX(0.9765);transform-origin:0 0;">(%)</div>
<div class="t" style="left:455.40px;top:542.90px;font-size:15.5px;line-height:15.5px;color:#333;transform:scaleX(0.8966);transform-origin:0 0;">전체</div>
<div class="t" style="left:561.70px;top:545.20px;font-size:11.5px;line-height:11.5px;color:#a3a3a3;transform:scaleX(1.0136);transform-origin:0 0;">35.2</div>
<div class="t" style="left:633.90px;top:545.20px;font-size:11.5px;line-height:11.5px;color:#8a8a8a;transform:scaleX(1.0091);transform-origin:0 0;">39.5</div>
<div class="t" style="left:455.43px;top:569.37px;font-size:15.5px;line-height:15.5px;color:#333;transform:scaleX(0.8667);transform-origin:0 0;">강원</div>
<div class="t" style="left:606.00px;top:572.17px;font-size:11.5px;line-height:11.5px;color:#a3a3a3;transform:scaleX(0.9318);transform-origin:0 0;">42.1</div>
<div class="t" style="left:730.30px;top:572.17px;font-size:11.5px;line-height:11.5px;color:#8a8a8a;transform:scaleX(0.9727);transform-origin:0 0;">54.7</div>
<div class="t" style="left:455.43px;top:596.84px;font-size:15.5px;line-height:15.5px;color:#333;transform:scaleX(0.8667);transform-origin:0 0;">충북</div>
<div class="t" style="left:532.00px;top:599.14px;font-size:11.5px;line-height:11.5px;color:#a3a3a3;transform:scaleX(1.0182);transform-origin:0 0;">30.2</div>
<div class="t" style="left:597.30px;top:599.14px;font-size:11.5px;line-height:11.5px;color:#8a8a8a;transform:scaleX(1.0136);transform-origin:0 0;">33.6</div>
<div class="t" style="left:455.46px;top:623.81px;font-size:15.5px;line-height:15.5px;color:#333;transform:scaleX(0.8387);transform-origin:0 0;">충남</div>
<div class="t" style="left:540.70px;top:626.11px;font-size:11.5px;line-height:11.5px;color:#a3a3a3;transform:scaleX(0.9682);transform-origin:0 0;">31.7</div>
<div class="t" style="left:612.30px;top:626.11px;font-size:11.5px;line-height:11.5px;color:#8a8a8a;transform:scaleX(1.0318);transform-origin:0 0;">35.9</div>
<div class="t" style="left:455.43px;top:650.28px;font-size:15.5px;line-height:15.5px;color:#333;transform:scaleX(0.8667);transform-origin:0 0;">전북</div>
<div class="t" style="left:515.80px;top:653.08px;font-size:11.5px;line-height:11.5px;color:#a3a3a3;transform:scaleX(0.9727);transform-origin:0 0;">29.5</div>
<div class="t" style="left:595.20px;top:653.08px;font-size:11.5px;line-height:11.5px;color:#8a8a8a;transform:scaleX(1.0364);transform-origin:0 0;">33.2</div>
<div class="t" style="left:455.46px;top:677.25px;font-size:15.5px;line-height:15.5px;color:#333;transform:scaleX(0.8387);transform-origin:0 0;">전남</div>
<div class="t" style="left:550.00px;top:680.05px;font-size:11.5px;line-height:11.5px;color:#a3a3a3;">33.4</div>
<div class="t" style="left:618.80px;top:680.05px;font-size:11.5px;line-height:11.5px;color:#8a8a8a;transform:scaleX(1.0318);transform-origin:0 0;">37.2</div>
<div class="t" style="left:455.43px;top:704.22px;font-size:15.5px;line-height:15.5px;color:#333;transform:scaleX(0.8667);transform-origin:0 0;">경북</div>
<div class="t" style="left:521.00px;top:707.02px;font-size:11.5px;line-height:11.5px;color:#a3a3a3;transform:scaleX(0.9727);transform-origin:0 0;">29.1</div>
<div class="t" style="left:582.30px;top:707.02px;font-size:11.5px;line-height:11.5px;color:#8a8a8a;transform:scaleX(0.9727);transform-origin:0 0;">31.8</div>
<div class="t" style="left:455.46px;top:731.19px;font-size:15.5px;line-height:15.5px;color:#333;transform:scaleX(0.8387);transform-origin:0 0;">경남</div>
<div class="t" style="left:527.80px;top:733.99px;font-size:11.5px;line-height:11.5px;color:#a3a3a3;transform:scaleX(1.0545);transform-origin:0 0;">30.2</div>
<div class="t" style="left:594.00px;top:733.99px;font-size:11.5px;line-height:11.5px;color:#8a8a8a;transform:scaleX(1.0273);transform-origin:0 0;">33.3</div>
<div class="t" style="left:455.40px;top:758.16px;font-size:15.5px;line-height:15.5px;color:#333;transform:scaleX(0.8966);transform-origin:0 0;">광역</div>
<div class="t" style="left:648.00px;top:760.96px;font-size:11.5px;line-height:11.5px;color:#a3a3a3;">48.8</div>
<div class="t" style="left:704.60px;top:760.96px;font-size:11.5px;line-height:11.5px;color:#8a8a8a;transform:scaleX(1.0318);transform-origin:0 0;">50.7</div>
<svg class="s" style="left:0;top:0" width="816" height="1157"><circle cx="669.9" cy="523.3" r="5.5" fill="#a3d7c7"/><circle cx="705.2" cy="523.3" r="5.5" fill="#3f74a9"/><circle cx="739.8" cy="523.3" r="5.5" fill="#f4cc30"/><line x1="498.5" y1="537" x2="498.5" y2="779" stroke="#d0d0d0" stroke-width="1"/><line x1="439" y1="563.6" x2="749" y2="563.6" stroke="#b5b5b5" stroke-width="1" stroke-dasharray="1 1.2"/><line x1="439" y1="590.6" x2="749" y2="590.6" stroke="#b5b5b5" stroke-width="1" stroke-dasharray="1 1.2"/><line x1="439" y1="617.5" x2="749" y2="617.5" stroke="#b5b5b5" stroke-width="1" stroke-dasharray="1 1.2"/><line x1="439" y1="644.5" x2="749" y2="644.5" stroke="#b5b5b5" stroke-width="1" stroke-dasharray="1 1.2"/><line x1="439" y1="671.5" x2="749" y2="671.5" stroke="#b5b5b5" stroke-width="1" stroke-dasharray="1 1.2"/><line x1="439" y1="698.5" x2="749" y2="698.5" stroke="#b5b5b5" stroke-width="1" stroke-dasharray="1 1.2"/><line x1="439" y1="725.4" x2="749" y2="725.4" stroke="#b5b5b5" stroke-width="1" stroke-dasharray="1 1.2"/><line x1="439" y1="752.4" x2="749" y2="752.4" stroke="#b5b5b5" stroke-width="1" stroke-dasharray="1 1.2"/><circle cx="595.6" cy="549.7" r="6" fill="#f4cc30"/><circle cx="601.1" cy="549.7" r="6" fill="#a3d7c7"/><circle cx="623.4" cy="549.7" r="6.2" fill="#3f74a9"/><circle cx="641" cy="576.7" r="6" fill="#f4cc30"/><circle cx="685.3" cy="576.7" r="6" fill="#a3d7c7"/><circle cx="720.9" cy="576.7" r="6.2" fill="#3f74a9"/><circle cx="563.8" cy="603.6" r="6" fill="#f4cc30"/><circle cx="567.3" cy="603.6" r="6" fill="#a3d7c7"/><circle cx="586.6" cy="603.6" r="6.2" fill="#3f74a9"/><circle cx="587.4" cy="630.6" r="6" fill="#f4cc30"/><circle cx="573.7" cy="630.6" r="6" fill="#a3d7c7"/><circle cx="600.3" cy="630.6" r="6.2" fill="#3f74a9"/><circle cx="563.8" cy="657.6" r="6" fill="#f4cc30"/><circle cx="558.7" cy="657.6" r="6" fill="#a3d7c7"/><circle cx="583.6" cy="657.6" r="6.2" fill="#3f74a9"/><circle cx="583" cy="684.6" r="6" fill="#f4cc30"/><circle cx="587.4" cy="684.6" r="6" fill="#a3d7c7"/><circle cx="609.3" cy="684.6" r="6.2" fill="#3f74a9"/><circle cx="557.4" cy="711.5" r="6" fill="#f4cc30"/><circle cx="557.4" cy="711.5" r="6" fill="#a3d7c7"/><circle cx="574.6" cy="711.5" r="6.2" fill="#3f74a9"/><circle cx="563.8" cy="738.5" r="6" fill="#f4cc30"/><circle cx="567.3" cy="738.5" r="6" fill="#a3d7c7"/><circle cx="583.6" cy="738.5" r="6.2" fill="#3f74a9"/><circle cx="687.4" cy="765.5" r="6" fill="#f4cc30"/><circle cx="682.2" cy="765.5" r="6" fill="#a3d7c7"/><circle cx="696" cy="765.5" r="6.2" fill="#3f74a9"/></svg>
<div class="t" style="left:74.30px;top:791.50px;font-size:18.5px;line-height:18.5px;color:#333;font-weight:bold;transform:scaleX(0.7895);transform-origin:0 0;">6. 유출인구 대비 유입인구</div>
<div class="t" style="left:251.00px;top:797.50px;font-size:11.5px;line-height:11.5px;color:#999;transform:scaleX(0.9355);transform-origin:0 0;">(천명)</div>
<div class="b" style="left:287px;top:793.9px;width:104px;height:16.7px;background:linear-gradient(90deg,#a9d2e2 0%,#6fa9c0 50%,#1d4a5c 100%)"></div>
<div class="t" style="left:290.70px;top:798.80px;font-size:8px;line-height:8px;color:#fff;font-weight:bold;transform:scaleX(0.9433);transform-origin:0 0;">최소 1.5</div>
<div class="t" style="left:356.40px;top:798.80px;font-size:8px;line-height:8px;color:#fff;font-weight:bold;transform:scaleX(1.0067);transform-origin:0 0;">최대 5.1</div>
<div class="t" style="left:400.80px;top:795.80px;font-size:12px;line-height:12px;color:#999;transform:scaleX(0.8882);transform-origin:0 0;">배수 =</div>
<div class="b" style="left:433.5px;top:793.9px;width:56.2px;height:16.7px;background:#f2c40f;"></div>
<div class="t" style="left:442.50px;top:797.80px;font-size:9px;line-height:9px;color:#222;font-weight:bold;transform:scaleX(1.0278);transform-origin:0 0;">유입인구</div>
<div class="b" style="left:500.3px;top:793.9px;width:54.0px;height:16.7px;background:#3aa886;"></div>
<div class="t" style="left:508.50px;top:798.30px;font-size:9px;line-height:9px;color:#fff;font-weight:bold;transform:scaleX(1.0278);transform-origin:0 0;">유출인구</div>
<div class="t" style="left:492.50px;top:793.80px;font-size:18px;line-height:18px;color:#333;font-weight:bold;">/</div>
<div class="t" style="left:108.80px;top:827.40px;font-size:11px;line-height:11px;color:#333;transform:scaleX(0.9381);transform-origin:0 0;-webkit-text-stroke:0.3px #333;">&#8217;25년7월</div>
<div class="t" style="left:340.70px;top:827.40px;font-size:11px;line-height:11px;color:#333;transform:scaleX(1.0813);transform-origin:0 0;-webkit-text-stroke:0.3px #333;">8월</div>
<div class="t" style="left:562.40px;top:827.40px;font-size:11px;line-height:11px;color:#333;transform:scaleX(1.0375);transform-origin:0 0;-webkit-text-stroke:0.3px #333;">9월</div>
<svg class="s" style="left:0;top:0" width="816" height="1157"><g transform="translate(0,0)"><path d="M 211.5,830.4 L 214.4,834.8 L 218.3,842.6 L 222.3,850.5 L 226.2,857.4 L 232.0,866.0 L 237.0,874.5 L 242.8,883.8 L 247.7,891.7 L 249.7,897.5 L 252.8,906.0 L 254.6,924.2 L 256.0,945.0 L 256.4,965.4 L 255.2,972.6 L 252.8,979.9 L 247.9,987.1 L 241.9,994.4 L 235.8,996.8 L 228.0,1003.0 L 220.0,1008.0 L 210.0,1011.0 L 200.7,1012.0 L 197.6,1008.9 L 193.6,1004.6 L 191.7,1008.5 L 187.7,1010.5 L 183.8,1014.4 L 179.9,1017.4 L 177.0,1022.3 L 171.1,1026.2 L 166.2,1024.2 L 160.3,1022.3 L 157.4,1027.2 L 152.5,1028.1 L 149.5,1036.0 L 146.6,1034.0 L 141.7,1031.1 L 139.7,1024.2 L 135.9,1015.0 L 137.1,1002.9 L 134.7,992.0 L 140.7,982.3 L 139.5,975.0 L 141.9,967.8 L 144.4,958.1 L 146.8,950.8 L 142.0,942.4 L 143.2,935.1 L 139.5,926.6 L 141.9,920.6 L 137.1,914.5 L 129.8,909.7 L 139.5,907.3 L 147.0,909.0 L 152.0,908.5 L 150.5,903.6 L 147.5,895.8 L 148.5,889.9 L 145.6,884.0 L 146.6,878.1 L 142.6,874.2 L 143.6,870.3 L 148.5,865.4 L 149.5,861.5 L 153.4,857.5 L 152.5,852.6 L 157.4,848.7 L 165.2,845.8 L 165.2,844.3 L 185.0,844.6 L 194.8,843.6 L 204.6,841.7 L 210.5,835.8 Z" fill="#c6dfe9" stroke="#e4eef2" stroke-width="0.6"/><polyline points="146.8,950.8 157.7,948.4 167.4,949.6 175.8,946 181.9,950.8 192.8,953.3 195.2,958.1" fill="none" stroke="#fff" stroke-width="1"/><polyline points="171.1,907.5 175.8,913.3 171,920.6 174,930 178,940 181.9,950.8" fill="none" stroke="#fff" stroke-width="1"/><polyline points="214.4,898.5 216,902 210,910 204,918 197,925 195.9,929 193.5,938.7 199.5,943.6 197.1,950.8 195.2,958.1" fill="none" stroke="#fff" stroke-width="1"/><polyline points="195.2,958.1 200.7,964.1 206.8,970.2 215.3,972.6 223.7,972.6 231,972.6 238.3,971.4 255.2,972.6" fill="none" stroke="#fff" stroke-width="1"/><polyline points="195.2,958.1 190.4,962.9 185.5,970.2 184.3,977.5 185.5,987.1 189.1,995.6 192.8,1006.5" fill="none" stroke="#fff" stroke-width="1"/><polyline points="140.7,982.3 149.2,983.5 156.5,979.9 163.7,984.7 173.4,985.9 181.9,984.7 185.5,987.1" fill="none" stroke="#fff" stroke-width="1"/><ellipse cx="170.5" cy="927" rx="2.6" ry="6" transform="rotate(-20 170.5 927)" fill="#efefef" stroke="#fff" stroke-width="0.8"/><ellipse cx="176" cy="940" rx="4.5" ry="5.5" transform="rotate(0 176 940)" fill="#efefef" stroke="#fff" stroke-width="0.8"/><ellipse cx="153.9" cy="995.3" rx="5.4" ry="4.4" transform="rotate(0 153.9 995.3)" fill="#efefef" stroke="#fff" stroke-width="0.8"/><ellipse cx="221.3" cy="962.9" rx="5" ry="7.5" transform="rotate(30 221.3 962.9)" fill="#efefef" stroke="#fff" stroke-width="0.8"/><ellipse cx="246" cy="976" rx="7.5" ry="7" transform="rotate(0 246 976)" fill="#efefef" stroke="#fff" stroke-width="0.8"/><ellipse cx="242" cy="991" rx="6" ry="5" transform="rotate(-30 242 991)" fill="#efefef" stroke="#fff" stroke-width="0.8"/><path d="M 165.2,845.8 L 169.1,850.7 L 177.9,857.5 L 182.8,864.4 L 184.8,874.2 L 192.6,881.1 L 192.6,889.9 L 187.7,897.7 L 179.9,903.6 L 171.1,907.5 L 164.2,910.5 L 154.4,909.5 L 150.5,903.6 L 147.5,895.8 L 148.5,889.9 L 145.6,884.0 L 146.6,878.1 L 142.6,874.2 L 143.6,870.3 L 148.5,865.4 L 149.5,861.5 L 153.4,857.5 L 152.5,852.6 L 157.4,848.7 Z" fill="#ececec" stroke="#d5d5d5" stroke-width="0.7"/><ellipse cx="161.3" cy="880" rx="6" ry="5" fill="none" stroke="#d0d0d0" stroke-width="0.7"/><path d="M 211.5,830.4 L 214.4,834.8 L 218.3,842.6 L 222.3,850.5 L 226.2,857.4 L 232.0,866.0 L 237.0,874.5 L 242.8,883.8 L 247.7,891.7 L 249.7,897.5 L 250.5,900.5 L 239.9,901.5 L 229.1,899.5 L 214.4,898.5 L 204.6,896.6 L 194.8,895.6 L 190.9,897.5 L 192.6,889.9 L 192.6,881.1 L 184.8,874.2 L 182.8,864.4 L 177.9,857.5 L 169.1,850.7 L 165.2,845.8 L 165.2,844.3 L 185.0,844.6 L 194.8,843.6 L 204.6,841.7 L 210.5,835.8 Z" fill="#2e6f8b"/><polyline points="123,1056 123,1038.3 165.3,1038.3" fill="none" stroke="#c8c8c8" stroke-width="0.8"/><ellipse cx="143" cy="1048" rx="14.6" ry="7.4" transform="rotate(-14 143 1048)" fill="#ececec" stroke="#c5c5c5" stroke-width="0.7"/><polyline points="269,890 269,879.5 282.5,879.5" fill="none" stroke="#c8c8c8" stroke-width="0.8"/><ellipse cx="274" cy="883.5" rx="1.6" ry="1.2" fill="#bbb"/><circle cx="280" cy="887" r="0.6" fill="#bbb"/></g><g transform="translate(236,0)"><path d="M 211.5,830.4 L 214.4,834.8 L 218.3,842.6 L 222.3,850.5 L 226.2,857.4 L 232.0,866.0 L 237.0,874.5 L 242.8,883.8 L 247.7,891.7 L 249.7,897.5 L 252.8,906.0 L 254.6,924.2 L 256.0,945.0 L 256.4,965.4 L 255.2,972.6 L 252.8,979.9 L 247.9,987.1 L 241.9,994.4 L 235.8,996.8 L 228.0,1003.0 L 220.0,1008.0 L 210.0,1011.0 L 200.7,1012.0 L 197.6,1008.9 L 193.6,1004.6 L 191.7,1008.5 L 187.7,1010.5 L 183.8,1014.4 L 179.9,1017.4 L 177.0,1022.3 L 171.1,1026.2 L 166.2,1024.2 L 160.3,1022.3 L 157.4,1027.2 L 152.5,1028.1 L 149.5,1036.0 L 146.6,1034.0 L 141.7,1031.1 L 139.7,1024.2 L 135.9,1015.0 L 137.1,1002.9 L 134.7,992.0 L 140.7,982.3 L 139.5,975.0 L 141.9,967.8 L 144.4,958.1 L 146.8,950.8 L 142.0,942.4 L 143.2,935.1 L 139.5,926.6 L 141.9,920.6 L 137.1,914.5 L 129.8,909.7 L 139.5,907.3 L 147.0,909.0 L 152.0,908.5 L 150.5,903.6 L 147.5,895.8 L 148.5,889.9 L 145.6,884.0 L 146.6,878.1 L 142.6,874.2 L 143.6,870.3 L 148.5,865.4 L 149.5,861.5 L 153.4,857.5 L 152.5,852.6 L 157.4,848.7 L 165.2,845.8 L 165.2,844.3 L 185.0,844.6 L 194.8,843.6 L 204.6,841.7 L 210.5,835.8 Z" fill="#c6dfe9" stroke="#e4eef2" stroke-width="0.6"/><path d="M 129.8,909.7 L 139.5,907.3 L 147.0,909.0 L 154.4,909.5 L 164.2,910.5 L 171.1,907.5 L 175.8,913.3 L 171.0,920.6 L 174.0,930.0 L 178.0,940.0 L 181.9,950.8 L 175.8,946.0 L 167.4,949.6 L 157.7,948.4 L 146.8,950.8 L 142.0,942.4 L 143.2,935.1 L 139.5,926.6 L 141.9,920.6 L 137.1,914.5 Z" fill="#9cc3d6"/><path d="M 171.1,907.5 L 179.9,903.6 L 187.7,897.7 L 190.9,897.5 L 194.8,895.6 L 204.6,896.6 L 214.4,898.5 L 216.0,902.0 L 210.0,910.0 L 204.0,918.0 L 197.0,925.0 L 195.9,929.0 L 193.5,938.7 L 199.5,943.6 L 197.1,950.8 L 195.2,958.1 L 192.8,953.3 L 181.9,950.8 L 178.0,940.0 L 174.0,930.0 L 171.0,920.6 L 175.8,913.3 Z" fill="#9cc3d6"/><polyline points="146.8,950.8 157.7,948.4 167.4,949.6 175.8,946 181.9,950.8 192.8,953.3 195.2,958.1" fill="none" stroke="#fff" stroke-width="1"/><polyline points="171.1,907.5 175.8,913.3 171,920.6 174,930 178,940 181.9,950.8" fill="none" stroke="#fff" stroke-width="1"/><polyline points="214.4,898.5 216,902 210,910 204,918 197,925 195.9,929 193.5,938.7 199.5,943.6 197.1,950.8 195.2,958.1" fill="none" stroke="#fff" stroke-width="1"/><polyline points="195.2,958.1 200.7,964.1 206.8,970.2 215.3,972.6 223.7,972.6 231,972.6 238.3,971.4 255.2,972.6" fill="none" stroke="#fff" stroke-width="1"/><polyline points="195.2,958.1 190.4,962.9 185.5,970.2 184.3,977.5 185.5,987.1 189.1,995.6 192.8,1006.5" fill="none" stroke="#fff" stroke-width="1"/><polyline points="140.7,982.3 149.2,983.5 156.5,979.9 163.7,984.7 173.4,985.9 181.9,984.7 185.5,987.1" fill="none" stroke="#fff" stroke-width="1"/><ellipse cx="170.5" cy="927" rx="2.6" ry="6" transform="rotate(-20 170.5 927)" fill="#efefef" stroke="#fff" stroke-width="0.8"/><ellipse cx="176" cy="940" rx="4.5" ry="5.5" transform="rotate(0 176 940)" fill="#efefef" stroke="#fff" stroke-width="0.8"/><ellipse cx="153.9" cy="995.3" rx="5.4" ry="4.4" transform="rotate(0 153.9 995.3)" fill="#efefef" stroke="#fff" stroke-width="0.8"/><ellipse cx="221.3" cy="962.9" rx="5" ry="7.5" transform="rotate(30 221.3 962.9)" fill="#efefef" stroke="#fff" stroke-width="0.8"/><ellipse cx="246" cy="976" rx="7.5" ry="7" transform="rotate(0 246 976)" fill="#efefef" stroke="#fff" stroke-width="0.8"/><ellipse cx="242" cy="991" rx="6" ry="5" transform="rotate(-30 242 991)" fill="#efefef" stroke="#fff" stroke-width="0.8"/><path d="M 165.2,845.8 L 169.1,850.7 L 177.9,857.5 L 182.8,864.4 L 184.8,874.2 L 192.6,881.1 L 192.6,889.9 L 187.7,897.7 L 179.9,903.6 L 171.1,907.5 L 164.2,910.5 L 154.4,909.5 L 150.5,903.6 L 147.5,895.8 L 148.5,889.9 L 145.6,884.0 L 146.6,878.1 L 142.6,874.2 L 143.6,870.3 L 148.5,865.4 L 149.5,861.5 L 153.4,857.5 L 152.5,852.6 L 157.4,848.7 Z" fill="#ececec" stroke="#d5d5d5" stroke-width="0.7"/><ellipse cx="161.3" cy="880" rx="6" ry="5" fill="none" stroke="#d0d0d0" stroke-width="0.7"/><path d="M 211.5,830.4 L 214.4,834.8 L 218.3,842.6 L 222.3,850.5 L 226.2,857.4 L 232.0,866.0 L 237.0,874.5 L 242.8,883.8 L 247.7,891.7 L 249.7,897.5 L 250.5,900.5 L 239.9,901.5 L 229.1,899.5 L 214.4,898.5 L 204.6,896.6 L 194.8,895.6 L 190.9,897.5 L 192.6,889.9 L 192.6,881.1 L 184.8,874.2 L 182.8,864.4 L 177.9,857.5 L 169.1,850.7 L 165.2,845.8 L 165.2,844.3 L 185.0,844.6 L 194.8,843.6 L 204.6,841.7 L 210.5,835.8 Z" fill="#1f4a5e"/><polyline points="123,1056 123,1038.3 165.3,1038.3" fill="none" stroke="#c8c8c8" stroke-width="0.8"/><ellipse cx="143" cy="1048" rx="14.6" ry="7.4" transform="rotate(-14 143 1048)" fill="#ececec" stroke="#c5c5c5" stroke-width="0.7"/><polyline points="269,890 269,879.5 282.5,879.5" fill="none" stroke="#c8c8c8" stroke-width="0.8"/><ellipse cx="274" cy="883.5" rx="1.6" ry="1.2" fill="#bbb"/><circle cx="280" cy="887" r="0.6" fill="#bbb"/></g><g transform="translate(465,0)"><path d="M 211.5,830.4 L 214.4,834.8 L 218.3,842.6 L 222.3,850.5 L 226.2,857.4 L 232.0,866.0 L 237.0,874.5 L 242.8,883.8 L 247.7,891.7 L 249.7,897.5 L 252.8,906.0 L 254.6,924.2 L 256.0,945.0 L 256.4,965.4 L 255.2,972.6 L 252.8,979.9 L 247.9,987.1 L 241.9,994.4 L 235.8,996.8 L 228.0,1003.0 L 220.0,1008.0 L 210.0,1011.0 L 200.7,1012.0 L 197.6,1008.9 L 193.6,1004.6 L 191.7,1008.5 L 187.7,1010.5 L 183.8,1014.4 L 179.9,1017.4 L 177.0,1022.3 L 171.1,1026.2 L 166.2,1024.2 L 160.3,1022.3 L 157.4,1027.2 L 152.5,1028.1 L 149.5,1036.0 L 146.6,1034.0 L 141.7,1031.1 L 139.7,1024.2 L 135.9,1015.0 L 137.1,1002.9 L 134.7,992.0 L 140.7,982.3 L 139.5,975.0 L 141.9,967.8 L 144.4,958.1 L 146.8,950.8 L 142.0,942.4 L 143.2,935.1 L 139.5,926.6 L 141.9,920.6 L 137.1,914.5 L 129.8,909.7 L 139.5,907.3 L 147.0,909.0 L 152.0,908.5 L 150.5,903.6 L 147.5,895.8 L 148.5,889.9 L 145.6,884.0 L 146.6,878.1 L 142.6,874.2 L 143.6,870.3 L 148.5,865.4 L 149.5,861.5 L 153.4,857.5 L 152.5,852.6 L 157.4,848.7 L 165.2,845.8 L 165.2,844.3 L 185.0,844.6 L 194.8,843.6 L 204.6,841.7 L 210.5,835.8 Z" fill="#c6dfe9" stroke="#e4eef2" stroke-width="0.6"/><polyline points="146.8,950.8 157.7,948.4 167.4,949.6 175.8,946 181.9,950.8 192.8,953.3 195.2,958.1" fill="none" stroke="#fff" stroke-width="1"/><polyline points="171.1,907.5 175.8,913.3 171,920.6 174,930 178,940 181.9,950.8" fill="none" stroke="#fff" stroke-width="1"/><polyline points="214.4,898.5 216,902 210,910 204,918 197,925 195.9,929 193.5,938.7 199.5,943.6 197.1,950.8 195.2,958.1" fill="none" stroke="#fff" stroke-width="1"/><polyline points="195.2,958.1 200.7,964.1 206.8,970.2 215.3,972.6 223.7,972.6 231,972.6 238.3,971.4 255.2,972.6" fill="none" stroke="#fff" stroke-width="1"/><polyline points="195.2,958.1 190.4,962.9 185.5,970.2 184.3,977.5 185.5,987.1 189.1,995.6 192.8,1006.5" fill="none" stroke="#fff" stroke-width="1"/><polyline points="140.7,982.3 149.2,983.5 156.5,979.9 163.7,984.7 173.4,985.9 181.9,984.7 185.5,987.1" fill="none" stroke="#fff" stroke-width="1"/><ellipse cx="170.5" cy="927" rx="2.6" ry="6" transform="rotate(-20 170.5 927)" fill="#efefef" stroke="#fff" stroke-width="0.8"/><ellipse cx="176" cy="940" rx="4.5" ry="5.5" transform="rotate(0 176 940)" fill="#efefef" stroke="#fff" stroke-width="0.8"/><ellipse cx="153.9" cy="995.3" rx="5.4" ry="4.4" transform="rotate(0 153.9 995.3)" fill="#efefef" stroke="#fff" stroke-width="0.8"/><ellipse cx="221.3" cy="962.9" rx="5" ry="7.5" transform="rotate(30 221.3 962.9)" fill="#efefef" stroke="#fff" stroke-width="0.8"/><ellipse cx="246" cy="976" rx="7.5" ry="7" transform="rotate(0 246 976)" fill="#efefef" stroke="#fff" stroke-width="0.8"/><ellipse cx="242" cy="991" rx="6" ry="5" transform="rotate(-30 242 991)" fill="#efefef" stroke="#fff" stroke-width="0.8"/><path d="M 165.2,845.8 L 169.1,850.7 L 177.9,857.5 L 182.8,864.4 L 184.8,874.2 L 192.6,881.1 L 192.6,889.9 L 187.7,897.7 L 179.9,903.6 L 171.1,907.5 L 164.2,910.5 L 154.4,909.5 L 150.5,903.6 L 147.5,895.8 L 148.5,889.9 L 145.6,884.0 L 146.6,878.1 L 142.6,874.2 L 143.6,870.3 L 148.5,865.4 L 149.5,861.5 L 153.4,857.5 L 152.5,852.6 L 157.4,848.7 Z" fill="#ececec" stroke="#d5d5d5" stroke-width="0.7"/><ellipse cx="161.3" cy="880" rx="6" ry="5" fill="none" stroke="#d0d0d0" stroke-width="0.7"/><path d="M 211.5,830.4 L 214.4,834.8 L 218.3,842.6 L 222.3,850.5 L 226.2,857.4 L 232.0,866.0 L 237.0,874.5 L 242.8,883.8 L 247.7,891.7 L 249.7,897.5 L 250.5,900.5 L 239.9,901.5 L 229.1,899.5 L 214.4,898.5 L 204.6,896.6 L 194.8,895.6 L 190.9,897.5 L 192.6,889.9 L 192.6,881.1 L 184.8,874.2 L 182.8,864.4 L 177.9,857.5 L 169.1,850.7 L 165.2,845.8 L 165.2,844.3 L 185.0,844.6 L 194.8,843.6 L 204.6,841.7 L 210.5,835.8 Z" fill="#98c0d3"/><polyline points="123,1056 123,1038.3 165.3,1038.3" fill="none" stroke="#c8c8c8" stroke-width="0.8"/><ellipse cx="143" cy="1048" rx="14.6" ry="7.4" transform="rotate(-14 143 1048)" fill="#ececec" stroke="#c5c5c5" stroke-width="0.7"/><polyline points="269,890 269,879.5 282.5,879.5" fill="none" stroke="#c8c8c8" stroke-width="0.8"/><ellipse cx="274" cy="883.5" rx="1.6" ry="1.2" fill="#bbb"/><circle cx="280" cy="887" r="0.6" fill="#bbb"/></g><polyline points="111,925.2 122,931.5 144.5,931.5" fill="none" stroke="#333" stroke-width="0.8"/><rect x="195.2" y="862" width="37.7" height="27.0" fill="#f2c200"/><rect x="232.9" y="862" width="9.9" height="27.0" fill="#35a184"/><rect x="232.4" y="858.1" width="2" height="34.4" fill="#0d2a24"/><rect x="76.6" y="894" width="27.1" height="26.4" fill="#f2c200"/><rect x="103.7" y="894" width="13.7" height="26.4" fill="#35a184"/><rect x="103.2" y="889.5" width="2" height="35.7" fill="#0d2a24"/><rect x="193.8" y="902.2" width="13.4" height="26.1" fill="#f2c200"/><rect x="207.2" y="902.2" width="7.4" height="26.1" fill="#35a184"/><rect x="206.7" y="898" width="2" height="34.2" fill="#0d2a24"/><rect x="231" y="933" width="26.6" height="25.6" fill="#f2c200"/><rect x="257.6" y="933" width="17.4" height="25.6" fill="#35a184"/><rect x="257.1" y="930" width="2" height="33.4" fill="#0d2a24"/><rect x="91.9" y="957" width="17.5" height="26.5" fill="#f2c200"/><rect x="109.4" y="957" width="8.6" height="26.5" fill="#35a184"/><rect x="108.9" y="953" width="2" height="34.3" fill="#0d2a24"/><rect x="103" y="996.2" width="25.5" height="26.2" fill="#f2c200"/><rect x="128.5" y="996.2" width="15.0" height="26.2" fill="#35a184"/><rect x="128.0" y="993.7" width="2" height="35.0" fill="#0d2a24"/><rect x="200.9" y="995.3" width="20.7" height="26.1" fill="#f2c200"/><rect x="221.6" y="995.3" width="11.1" height="26.1" fill="#35a184"/><rect x="221.1" y="991" width="2" height="34.5" fill="#0d2a24"/><rect x="431.5" y="855" width="51.7" height="25.5" fill="#f2c200"/><rect x="483.2" y="855" width="9.8" height="25.5" fill="#35a184"/><rect x="482.7" y="851" width="2" height="34.3" fill="#0d2a24"/><rect x="339.8" y="915.6" width="32.8" height="26.1" fill="#f2c200"/><rect x="372.6" y="915.6" width="14.4" height="26.1" fill="#35a184"/><rect x="372.1" y="910.8" width="2" height="35.1" fill="#0d2a24"/><rect x="424.5" y="903.5" width="17.2" height="25.8" fill="#f2c200"/><rect x="441.7" y="903.5" width="7.3" height="25.8" fill="#35a184"/><rect x="441.2" y="899" width="2" height="33.2" fill="#0d2a24"/><rect x="442" y="932.2" width="33.5" height="25.5" fill="#f2c200"/><rect x="475.5" y="932.2" width="18.2" height="25.5" fill="#35a184"/><rect x="475.0" y="929" width="2" height="33.4" fill="#0d2a24"/><rect x="360.8" y="953.8" width="21.3" height="26.2" fill="#f2c200"/><rect x="382.1" y="953.8" width="10.6" height="26.2" fill="#35a184"/><rect x="381.6" y="949" width="2" height="34.5" fill="#0d2a24"/><rect x="341.4" y="1001" width="29.6" height="26.0" fill="#f2c200"/><rect x="371" y="1001" width="16.0" height="26.0" fill="#35a184"/><rect x="370.5" y="997.8" width="2" height="35.2" fill="#0d2a24"/><rect x="435.7" y="991" width="25.2" height="26.0" fill="#f2c200"/><rect x="460.9" y="991" width="12.1" height="26.0" fill="#35a184"/><rect x="460.4" y="988" width="2" height="33.7" fill="#0d2a24"/><rect x="681.9" y="851.9" width="27.7" height="26.1" fill="#f2c200"/><rect x="709.6" y="851.9" width="9.6" height="26.1" fill="#35a184"/><rect x="709.1" y="847" width="2" height="34.5" fill="#0d2a24"/><rect x="572" y="918" width="27.7" height="25.6" fill="#f2c200"/><rect x="599.7" y="918" width="13.7" height="25.6" fill="#35a184"/><rect x="599.2" y="914" width="2" height="33.5" fill="#0d2a24"/><rect x="655.4" y="904.4" width="12.1" height="26.6" fill="#f2c200"/><rect x="667.5" y="904.4" width="6.5" height="26.6" fill="#35a184"/><rect x="667.0" y="899.7" width="2" height="34.3" fill="#0d2a24"/><rect x="681" y="932.2" width="25.7" height="27.1" fill="#f2c200"/><rect x="706.7" y="932.2" width="15.0" height="27.1" fill="#35a184"/><rect x="706.2" y="929" width="2" height="34.4" fill="#0d2a24"/><rect x="601.3" y="954.8" width="16.8" height="26.2" fill="#f2c200"/><rect x="618.1" y="954.8" width="8.6" height="26.2" fill="#35a184"/><rect x="617.6" y="950.7" width="2" height="33.3" fill="#0d2a24"/><rect x="580" y="1001" width="23.8" height="26.8" fill="#f2c200"/><rect x="603.8" y="1001" width="12.7" height="26.8" fill="#35a184"/><rect x="603.3" y="997.8" width="2" height="35.2" fill="#0d2a24"/><rect x="668.2" y="978.4" width="19.4" height="25.8" fill="#f2c200"/><rect x="687.6" y="978.4" width="10.2" height="25.8" fill="#35a184"/><rect x="687.1" y="975.2" width="2" height="34.4" fill="#0d2a24"/></svg>
<div class="t" style="left:208.00px;top:869.00px;font-size:9.5px;line-height:9.5px;color:#2a2a2a;font-weight:bold;transform:scaleX(0.9667);transform-origin:0 0;-webkit-text-stroke:0.3px #2a2a2a;">4,136</div>
<div class="t" style="left:235.50px;top:870.00px;font-size:9.5px;line-height:9.5px;color:#2a2a2a;font-weight:bold;transform:scaleX(0.8750);transform-origin:0 0;-webkit-text-stroke:0.3px #2a2a2a;">987</div>
<div class="t" style="left:78.80px;top:900.70px;font-size:9.5px;line-height:9.5px;color:#2a2a2a;font-weight:bold;transform:scaleX(0.9667);transform-origin:0 0;-webkit-text-stroke:0.3px #2a2a2a;">2,910</div>
<div class="t" style="left:106.30px;top:900.70px;font-size:9.5px;line-height:9.5px;color:#2a2a2a;font-weight:bold;transform:scaleX(0.9667);transform-origin:0 0;-webkit-text-stroke:0.3px #2a2a2a;">1,385</div>
<div class="t" style="left:182.30px;top:908.75px;font-size:9.5px;line-height:9.5px;color:#2a2a2a;font-weight:bold;transform:scaleX(0.9667);transform-origin:0 0;-webkit-text-stroke:0.3px #2a2a2a;">1,459</div>
<div class="t" style="left:209.80px;top:909.75px;font-size:9.5px;line-height:9.5px;color:#2a2a2a;font-weight:bold;transform:scaleX(0.8750);transform-origin:0 0;-webkit-text-stroke:0.3px #2a2a2a;">672</div>
<div class="t" style="left:232.70px;top:939.30px;font-size:9.5px;line-height:9.5px;color:#2a2a2a;font-weight:bold;transform:scaleX(0.9667);transform-origin:0 0;-webkit-text-stroke:0.3px #2a2a2a;">2,946</div>
<div class="t" style="left:260.20px;top:939.30px;font-size:9.5px;line-height:9.5px;color:#2a2a2a;font-weight:bold;transform:scaleX(0.9667);transform-origin:0 0;-webkit-text-stroke:0.3px #2a2a2a;">1,803</div>
<div class="t" style="left:84.50px;top:963.75px;font-size:9.5px;line-height:9.5px;color:#2a2a2a;font-weight:bold;transform:scaleX(0.9667);transform-origin:0 0;-webkit-text-stroke:0.3px #2a2a2a;">1,846</div>
<div class="t" style="left:112.00px;top:963.75px;font-size:9.5px;line-height:9.5px;color:#2a2a2a;font-weight:bold;transform:scaleX(0.9667);transform-origin:0 0;-webkit-text-stroke:0.3px #2a2a2a;">1,001</div>
<div class="t" style="left:103.60px;top:1002.80px;font-size:9.5px;line-height:9.5px;color:#2a2a2a;font-weight:bold;transform:scaleX(0.9667);transform-origin:0 0;-webkit-text-stroke:0.3px #2a2a2a;">2,736</div>
<div class="t" style="left:131.10px;top:1002.80px;font-size:9.5px;line-height:9.5px;color:#2a2a2a;font-weight:bold;transform:scaleX(0.9667);transform-origin:0 0;-webkit-text-stroke:0.3px #2a2a2a;">1,582</div>
<div class="t" style="left:196.70px;top:1001.85px;font-size:9.5px;line-height:9.5px;color:#2a2a2a;font-weight:bold;transform:scaleX(0.9667);transform-origin:0 0;-webkit-text-stroke:0.3px #2a2a2a;">2,248</div>
<div class="t" style="left:224.20px;top:1001.85px;font-size:9.5px;line-height:9.5px;color:#2a2a2a;font-weight:bold;transform:scaleX(0.9667);transform-origin:0 0;-webkit-text-stroke:0.3px #2a2a2a;">1,162</div>
<div class="t" style="left:458.30px;top:861.25px;font-size:9.5px;line-height:9.5px;color:#2a2a2a;font-weight:bold;transform:scaleX(0.9667);transform-origin:0 0;-webkit-text-stroke:0.3px #2a2a2a;">5,430</div>
<div class="t" style="left:485.80px;top:861.25px;font-size:9.5px;line-height:9.5px;color:#2a2a2a;font-weight:bold;transform:scaleX(0.9667);transform-origin:0 0;-webkit-text-stroke:0.3px #2a2a2a;">1,071</div>
<div class="t" style="left:347.70px;top:922.15px;font-size:9.5px;line-height:9.5px;color:#2a2a2a;font-weight:bold;transform:scaleX(0.9667);transform-origin:0 0;-webkit-text-stroke:0.3px #2a2a2a;">3,587</div>
<div class="t" style="left:375.20px;top:922.15px;font-size:9.5px;line-height:9.5px;color:#2a2a2a;font-weight:bold;transform:scaleX(0.9667);transform-origin:0 0;-webkit-text-stroke:0.3px #2a2a2a;">1,539</div>
<div class="t" style="left:416.80px;top:909.90px;font-size:9.5px;line-height:9.5px;color:#2a2a2a;font-weight:bold;transform:scaleX(0.9667);transform-origin:0 0;-webkit-text-stroke:0.3px #2a2a2a;">1,801</div>
<div class="t" style="left:444.30px;top:910.90px;font-size:9.5px;line-height:9.5px;color:#2a2a2a;font-weight:bold;transform:scaleX(0.8750);transform-origin:0 0;-webkit-text-stroke:0.3px #2a2a2a;">742</div>
<div class="t" style="left:450.60px;top:938.45px;font-size:9.5px;line-height:9.5px;color:#2a2a2a;font-weight:bold;transform:scaleX(0.9667);transform-origin:0 0;-webkit-text-stroke:0.3px #2a2a2a;">3,579</div>
<div class="t" style="left:478.10px;top:938.45px;font-size:9.5px;line-height:9.5px;color:#2a2a2a;font-weight:bold;transform:scaleX(0.9667);transform-origin:0 0;-webkit-text-stroke:0.3px #2a2a2a;">1,983</div>
<div class="t" style="left:357.20px;top:960.40px;font-size:9.5px;line-height:9.5px;color:#2a2a2a;font-weight:bold;transform:scaleX(0.9667);transform-origin:0 0;-webkit-text-stroke:0.3px #2a2a2a;">2,291</div>
<div class="t" style="left:384.70px;top:960.40px;font-size:9.5px;line-height:9.5px;color:#2a2a2a;font-weight:bold;transform:scaleX(0.9667);transform-origin:0 0;-webkit-text-stroke:0.3px #2a2a2a;">1,122</div>
<div class="t" style="left:346.10px;top:1007.50px;font-size:9.5px;line-height:9.5px;color:#2a2a2a;font-weight:bold;transform:scaleX(0.9667);transform-origin:0 0;-webkit-text-stroke:0.3px #2a2a2a;">3,269</div>
<div class="t" style="left:373.60px;top:1007.50px;font-size:9.5px;line-height:9.5px;color:#2a2a2a;font-weight:bold;transform:scaleX(0.9667);transform-origin:0 0;-webkit-text-stroke:0.3px #2a2a2a;">1,724</div>
<div class="t" style="left:436.00px;top:997.50px;font-size:9.5px;line-height:9.5px;color:#2a2a2a;font-weight:bold;transform:scaleX(0.9667);transform-origin:0 0;-webkit-text-stroke:0.3px #2a2a2a;">2,715</div>
<div class="t" style="left:463.50px;top:997.50px;font-size:9.5px;line-height:9.5px;color:#2a2a2a;font-weight:bold;transform:scaleX(0.9667);transform-origin:0 0;-webkit-text-stroke:0.3px #2a2a2a;">1,279</div>
<div class="t" style="left:684.70px;top:858.45px;font-size:9.5px;line-height:9.5px;color:#2a2a2a;font-weight:bold;transform:scaleX(0.9667);transform-origin:0 0;-webkit-text-stroke:0.3px #2a2a2a;">2,958</div>
<div class="t" style="left:712.20px;top:858.45px;font-size:9.5px;line-height:9.5px;color:#2a2a2a;font-weight:bold;transform:scaleX(0.9667);transform-origin:0 0;-webkit-text-stroke:0.3px #2a2a2a;">1,028</div>
<div class="t" style="left:574.80px;top:924.30px;font-size:9.5px;line-height:9.5px;color:#2a2a2a;font-weight:bold;transform:scaleX(0.9667);transform-origin:0 0;-webkit-text-stroke:0.3px #2a2a2a;">3,014</div>
<div class="t" style="left:602.30px;top:924.30px;font-size:9.5px;line-height:9.5px;color:#2a2a2a;font-weight:bold;transform:scaleX(0.9667);transform-origin:0 0;-webkit-text-stroke:0.3px #2a2a2a;">1,373</div>
<div class="t" style="left:642.60px;top:911.20px;font-size:9.5px;line-height:9.5px;color:#2a2a2a;font-weight:bold;transform:scaleX(0.9667);transform-origin:0 0;-webkit-text-stroke:0.3px #2a2a2a;">1,360</div>
<div class="t" style="left:670.10px;top:912.20px;font-size:9.5px;line-height:9.5px;color:#2a2a2a;font-weight:bold;transform:scaleX(0.8750);transform-origin:0 0;-webkit-text-stroke:0.3px #2a2a2a;">665</div>
<div class="t" style="left:681.80px;top:939.25px;font-size:9.5px;line-height:9.5px;color:#2a2a2a;font-weight:bold;transform:scaleX(0.9667);transform-origin:0 0;-webkit-text-stroke:0.3px #2a2a2a;">2,788</div>
<div class="t" style="left:709.30px;top:939.25px;font-size:9.5px;line-height:9.5px;color:#2a2a2a;font-weight:bold;transform:scaleX(0.9667);transform-origin:0 0;-webkit-text-stroke:0.3px #2a2a2a;">1,733</div>
<div class="t" style="left:593.20px;top:961.40px;font-size:9.5px;line-height:9.5px;color:#2a2a2a;font-weight:bold;transform:scaleX(0.9667);transform-origin:0 0;-webkit-text-stroke:0.3px #2a2a2a;">1,823</div>
<div class="t" style="left:620.70px;top:961.40px;font-size:9.5px;line-height:9.5px;color:#2a2a2a;font-weight:bold;transform:scaleX(0.9667);transform-origin:0 0;-webkit-text-stroke:0.3px #2a2a2a;">1,005</div>
<div class="t" style="left:578.90px;top:1007.90px;font-size:9.5px;line-height:9.5px;color:#2a2a2a;font-weight:bold;transform:scaleX(0.9667);transform-origin:0 0;-webkit-text-stroke:0.3px #2a2a2a;">2,491</div>
<div class="t" style="left:606.40px;top:1007.90px;font-size:9.5px;line-height:9.5px;color:#2a2a2a;font-weight:bold;transform:scaleX(0.9667);transform-origin:0 0;-webkit-text-stroke:0.3px #2a2a2a;">1,532</div>
<div class="t" style="left:662.70px;top:984.80px;font-size:9.5px;line-height:9.5px;color:#2a2a2a;font-weight:bold;transform:scaleX(0.9667);transform-origin:0 0;-webkit-text-stroke:0.3px #2a2a2a;">2,100</div>
<div class="t" style="left:690.20px;top:984.80px;font-size:9.5px;line-height:9.5px;color:#2a2a2a;font-weight:bold;transform:scaleX(0.9667);transform-origin:0 0;-webkit-text-stroke:0.3px #2a2a2a;">1,137</div>
<div class="t" style="left:181.82px;top:845.40px;font-size:10.5px;line-height:10.5px;color:#fff;transform:scaleX(0.8750);transform-origin:0 0;">강원</div>
<div class="t" style="left:169.12px;top:897.50px;font-size:10.5px;line-height:10.5px;color:#3f4d58;transform:scaleX(0.8750);transform-origin:0 0;">충북</div>
<div class="t" style="left:145.17px;top:925.00px;font-size:10.5px;line-height:10.5px;color:#3f4d58;transform:scaleX(0.8333);transform-origin:0 0;">충남</div>
<div class="t" style="left:236.12px;top:915.50px;font-size:10.5px;line-height:10.5px;color:#3f4d58;transform:scaleX(0.8750);transform-origin:0 0;">경북</div>
<div class="t" style="left:153.12px;top:963.30px;font-size:10.5px;line-height:10.5px;color:#3f4d58;transform:scaleX(0.8750);transform-origin:0 0;">전북</div>
<div class="t" style="left:192.97px;top:976.00px;font-size:10.5px;line-height:10.5px;color:#3f4d58;transform:scaleX(0.8333);transform-origin:0 0;">경남</div>
<div class="t" style="left:161.17px;top:991.30px;font-size:10.5px;line-height:10.5px;color:#3f4d58;transform:scaleX(0.8333);transform-origin:0 0;">전남</div>

</body></html>
